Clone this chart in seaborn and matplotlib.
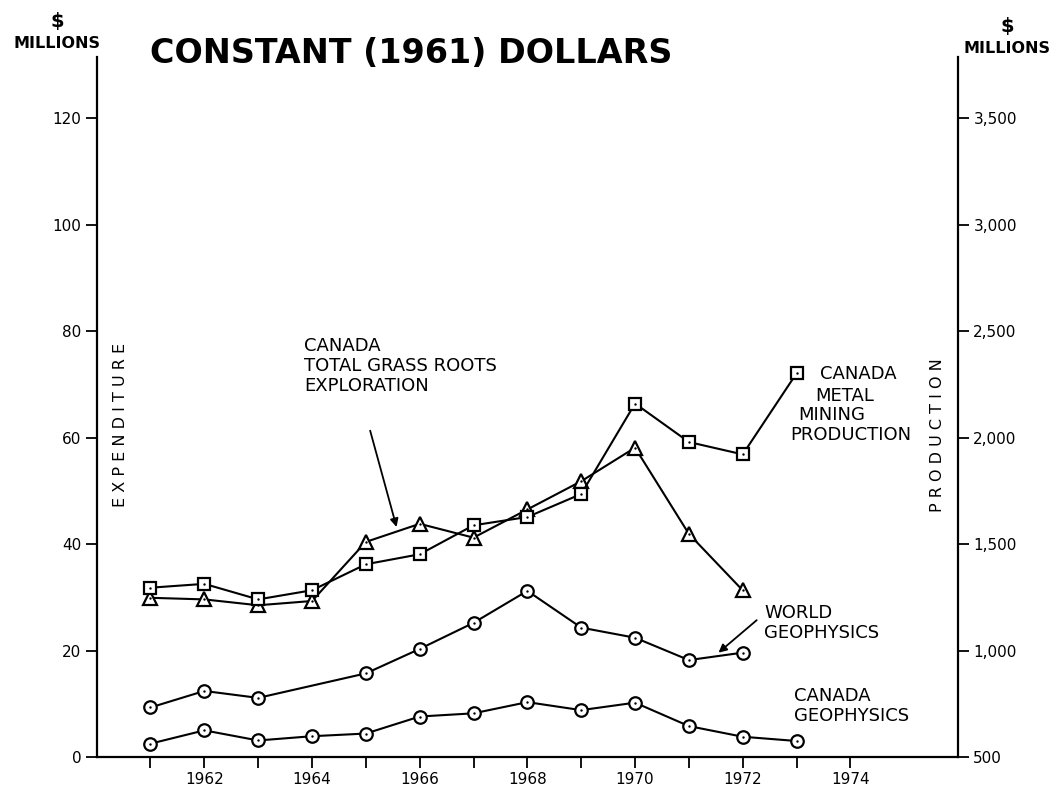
import matplotlib
matplotlib.use("Agg")
import matplotlib.pyplot as plt
import pandas as pd
import seaborn as sns

# ---- dados ----
anos_cg = [1961, 1962, 1963, 1964, 1965, 1966, 1967, 1968, 1969, 1970, 1971, 1972, 1973]
canada_geofisica = [2.5, 5.0, 3.1, 3.9, 4.4, 7.6, 8.2, 10.3, 8.8, 10.2, 5.8, 3.8, 3.0]

anos_wg = [1961, 1962, 1963, 1965, 1966, 1967, 1968, 1969, 1970, 1971, 1972]
mundo_geofisica = [9.3, 12.4, 11.1, 15.7, 20.3, 25.2, 31.2, 24.3, 22.4, 18.2, 19.6]

anos_gr = [1961, 1962, 1963, 1964, 1965, 1966, 1967, 1968, 1969, 1970, 1971, 1972]
grass_roots = [29.9, 29.6, 28.5, 29.3, 40.4, 43.8, 41.2, 46.5, 51.8, 58.1, 41.9, 31.3]

anos_prod = [1961, 1962, 1963, 1964, 1965, 1966, 1967, 1968, 1969, 1970, 1971, 1972, 1973]
producao = [1295, 1313, 1240, 1283, 1405, 1452, 1588, 1627, 1735, 2160, 1979, 1921, 2302]

ticks_esq = [0, 20, 40, 60, 80, 100, 120]
ticks_dir = [500, 1000, 1500, 2000, 2500, 3000, 3500]
rotulos_dir = ["500", "1,000", "1,500", "2,000", "2,500", "3,000", "3,500"]
anos_ticks = list(range(1961, 1975))
anos_rotulos = ["", "1962", "", "1964", "", "1966", "", "1968", "", "1970", "", "1972", "", "1974"]

sns.set_theme(style="ticks")
plt.rcParams["font.family"] = ["DejaVu Sans"]
plt.rcParams["text.color"] = "black"

fig = plt.figure(figsize=(10.54, 7.99), dpi=100)
ax = fig.add_axes([0.0917, 0.0526, 0.8173, 0.8761])
ax2 = ax.twinx()

preto = "black"
lw = 1.5


def serie(eixo, anos, vals, marcador, ms):
    df = pd.DataFrame({"ano": anos, "valor": vals})
    sns.lineplot(data=df, x="ano", y="valor", ax=eixo, color=preto, linewidth=lw,
                 marker=marcador, markersize=ms, markerfacecolor="white",
                 markeredgecolor=preto, markeredgewidth=1.6, zorder=3)
    sns.scatterplot(data=df, x="ano", y="valor", ax=eixo, color=preto, s=3,
                    linewidth=0, zorder=4)


serie(ax, anos_cg, canada_geofisica, "o", 9)
serie(ax, anos_wg, mundo_geofisica, "o", 9)
serie(ax, anos_gr, grass_roots, "^", 10)
serie(ax2, anos_prod, producao, "s", 8.5)

ax.set_xlim(1960, 1976)
ax.set_ylim(0, 131.5)
ax2.set_ylim(500, 500 + 131.5 * 25)

ax.set_xticks(anos_ticks)
ax.set_xticklabels(anos_rotulos, fontsize=11)
ax.set_yticks(ticks_esq)
ax.set_yticklabels([str(t) for t in ticks_esq], fontsize=11)
ax2.set_yticks(ticks_dir)
ax2.set_yticklabels(rotulos_dir, fontsize=11)

for a in (ax, ax2):
    a.set_xlabel("")
    a.set_ylabel("")
    a.spines["top"].set_visible(False)
    for s in a.spines.values():
        s.set_linewidth(1.6)
        s.set_color(preto)
    a.tick_params(direction="out", length=8, width=1.3, colors=preto, pad=3)
ax.spines["right"].set_visible(False)
ax2.spines["left"].set_visible(False)
ax2.spines["bottom"].set_visible(False)

# ---- textos ----
fig.text(0.054, 0.973, "$", ha="center", va="center", fontsize=14, weight="bold")
fig.text(0.054, 0.946, "MILLIONS", ha="center", va="center", fontsize=11.5, weight="bold")
fig.text(0.956, 0.967, "$", ha="center", va="center", fontsize=14, weight="bold")
fig.text(0.955, 0.939, "MILLIONS", ha="center", va="center", fontsize=11.5, weight="bold")
fig.text(0.142, 0.933, "CONSTANT (1961) DOLLARS", ha="left", va="center", fontsize=24, weight="bold")

fig.text(0.114, 0.468, "E X P E N D I T U R E", rotation=90, ha="center", va="center", fontsize=11.5)
fig.text(0.889, 0.455, "P R O D U C T I O N", rotation=90, ha="center", va="center", fontsize=11.5)

kw = dict(fontsize=13, color=preto, va="center", ha="left", linespacing=1.15)
ax.text(1963.85, 73.5, "CANADA\nTOTAL GRASS ROOTS\nEXPLORATION", **kw)
ax.annotate("", xy=(1965.57, 43.2), xytext=(1965.08, 61.3),
            arrowprops=dict(arrowstyle="-|>", color=preto, lw=1.3, shrinkA=0, shrinkB=0))
ax.text(1972.4, 25.2, "WORLD\nGEOPHYSICS", **kw)
ax.annotate("", xy=(1971.55, 19.6), xytext=(1972.26, 25.7),
            arrowprops=dict(arrowstyle="-|>", color=preto, lw=1.3, shrinkA=0, shrinkB=0))
ax.text(1972.95, 9.6, "CANADA\nGEOPHYSICS", **kw)

kw2 = dict(fontsize=13, color=preto, va="center", ha="center")
ax.text(1974.15, 72.0, "CANADA", **kw2)
ax.text(1973.9, 67.9, "METAL", **kw2)
ax.text(1973.65, 64.2, "MINING", **kw2)
ax.text(1974.0, 60.4, "PRODUCTION", **kw2)

fig.savefig("out.png", dpi=100)
